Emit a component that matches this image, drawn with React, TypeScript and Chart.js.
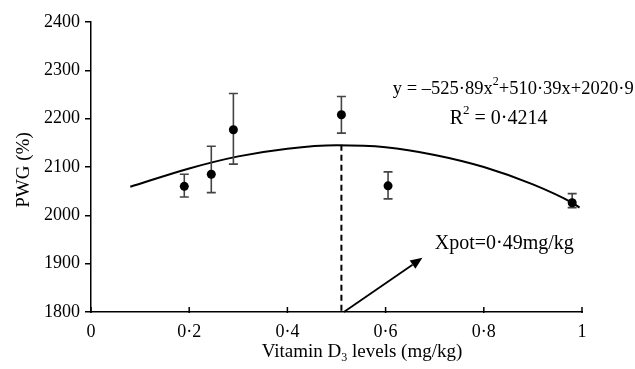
import React, { useEffect, useRef } from "react";
import { Chart, registerables } from "chart.js";

Chart.register(...registerables);

// Vitamin D3 levels (as drawn) and PWG means with error bars
const levels = [0.19, 0.245, 0.29, 0.51, 0.605, 0.98];
const pwgMeans = [2060, 2085, 2177, 2208, 2061, 2026];
const pwgLower = [2038, 2047, 2106, 2170, 2034, 2016];
const pwgUpper = [2085, 2143, 2252, 2246, 2090, 2045];

// quadratic fit curve
const fitX = [0.08, 0.2, 0.3, 0.4, 0.5, 0.6, 0.7, 0.8, 0.9, 0.98, 0.995];
const fitY = [2059, 2097, 2122, 2138, 2145, 2141, 2125, 2100, 2064, 2026, 2016];

const xTicks = [0, 0.2, 0.4, 0.6, 0.8, 1];
const xTickLabels = ["0", "0·2", "0·4", "0·6", "0·8", "1"];
const yTicks = [1800, 1900, 2000, 2100, 2200, 2300, 2400];
const yTickLabels = ["1800", "1900", "2000", "2100", "2200", "2300", "2400"];

const xpotX = 0.51;
const xpotTop = 2146;
const arrowFrom = [0.515, 1800];
const arrowTo = [0.675, 1912];

const equationParts = [
  { t: "y = –525·89x" },
  { t: "2", sup: true },
  { t: "+510·39x+2020·9" },
];
const r2Parts = [{ t: "R" }, { t: "2", sup: true }, { t: " = 0·4214" }];
const xpotLabel = "Xpot=0·49mg/kg";
const xTitleParts = [{ t: "Vitamin D" }, { t: "3", sub: true }, { t: " levels (mg/kg)" }];
const yTitle = "PWG (%)";

const FONT = "'Liberation Serif', 'Times New Roman', serif";

type Part = { t: string; sup?: boolean; sub?: boolean };

function drawRich(ctx: CanvasRenderingContext2D, parts: Part[], x: number, y: number, size: number, align: "center" | "left") {
  const small = Math.round(size * 0.65);
  let total = 0;
  for (const p of parts) {
    ctx.font = `${p.sup || p.sub ? small : size}px ${FONT}`;
    total += ctx.measureText(p.t).width;
  }
  let cx = align === "center" ? x - total / 2 : x;
  ctx.textAlign = "left";
  ctx.textBaseline = "middle";
  for (const p of parts) {
    const sz = p.sup || p.sub ? small : size;
    ctx.font = `${sz}px ${FONT}`;
    const dy = p.sup ? -size * 0.38 : p.sub ? size * 0.3 : 0;
    ctx.fillText(p.t, cx, y + dy);
    cx += ctx.measureText(p.t).width;
  }
}

const overlay = {
  id: "overlay",
  afterDatasetsDraw(chart: any) {
    const ctx: CanvasRenderingContext2D = chart.ctx;
    const xs = chart.scales.x;
    const ys = chart.scales.y;
    const area = chart.chartArea;
    ctx.save();

    // x ticks (pointing up)
    ctx.strokeStyle = "#000";
    ctx.lineWidth = 1.5;
    for (const v of xTicks) {
      const px = xs.getPixelForValue(v);
      ctx.beginPath();
      ctx.moveTo(px, area.bottom + 1);
      ctx.lineTo(px, area.bottom - 5);
      ctx.stroke();
    }

    // error bars
    ctx.strokeStyle = "#444";
    ctx.lineWidth = 1.6;
    for (let i = 0; i < levels.length; i++) {
      const px = xs.getPixelForValue(levels[i]);
      const top = ys.getPixelForValue(pwgUpper[i]);
      const bot = ys.getPixelForValue(pwgLower[i]);
      ctx.beginPath();
      ctx.moveTo(px, top);
      ctx.lineTo(px, bot);
      ctx.moveTo(px - 4.5, top);
      ctx.lineTo(px + 4.5, top);
      ctx.moveTo(px - 4.5, bot);
      ctx.lineTo(px + 4.5, bot);
      ctx.stroke();
    }

    // points on top of bars
    ctx.fillStyle = "#000";
    for (let i = 0; i < levels.length; i++) {
      ctx.beginPath();
      ctx.arc(xs.getPixelForValue(levels[i]), ys.getPixelForValue(pwgMeans[i]), 4.5, 0, Math.PI * 2);
      ctx.fill();
    }

    // dashed vertical line at Xpot
    ctx.strokeStyle = "#000";
    ctx.lineWidth = 2;
    ctx.setLineDash([6, 4]);
    const dx = xs.getPixelForValue(xpotX);
    ctx.beginPath();
    ctx.moveTo(dx, ys.getPixelForValue(xpotTop));
    ctx.lineTo(dx, ys.getPixelForValue(1800));
    ctx.stroke();
    ctx.setLineDash([]);

    // arrow
    const ax1 = xs.getPixelForValue(arrowFrom[0]);
    const ay1 = ys.getPixelForValue(arrowFrom[1]);
    const ax2 = xs.getPixelForValue(arrowTo[0]);
    const ay2 = ys.getPixelForValue(arrowTo[1]);
    const ang = Math.atan2(ay2 - ay1, ax2 - ax1);
    const hl = 12;
    const hw = 5;
    const bx = ax2 - hl * Math.cos(ang);
    const by = ay2 - hl * Math.sin(ang);
    ctx.lineWidth = 1.8;
    ctx.beginPath();
    ctx.moveTo(ax1, ay1);
    ctx.lineTo(bx, by);
    ctx.stroke();
    ctx.beginPath();
    ctx.moveTo(ax2, ay2);
    ctx.lineTo(bx + hw * Math.sin(ang), by - hw * Math.cos(ang));
    ctx.lineTo(bx - hw * Math.sin(ang), by + hw * Math.cos(ang));
    ctx.closePath();
    ctx.fill();

    // texts
    ctx.fillStyle = "#000";
    drawRich(ctx, equationParts, xs.getPixelForValue(0.86), ys.getPixelForValue(2262), 18.5, "center");
    drawRich(ctx, r2Parts, xs.getPixelForValue(0.83), ys.getPixelForValue(2200), 20, "center");
    drawRich(ctx, [{ t: xpotLabel }], xs.getPixelForValue(0.70), ys.getPixelForValue(1942), 20, "left");

    // axis titles
    drawRich(ctx, xTitleParts, 362, area.bottom + 40, 19, "center");
    ctx.save();
    ctx.translate(24, (area.top + area.bottom) / 2 + 3);
    ctx.rotate(-Math.PI / 2);
    drawRich(ctx, [{ t: yTitle }], 0, 0, 19, "center");
    ctx.restore();

    ctx.restore();
  },
};

export default function App() {
  const ref = useRef<HTMLCanvasElement | null>(null);
  useEffect(() => {
    document.body.style.margin = "0";
    if (!ref.current) return;
    const chart = new Chart(ref.current, {
      type: "scatter",
      data: {
        datasets: [
          {
            type: "line",
            data: fitX.map((x, i) => ({ x, y: fitY[i] })),
            borderColor: "#000",
            borderWidth: 2,
            pointRadius: 0,
            tension: 0.4,
            cubicInterpolationMode: "monotone",
            fill: false,
          } as any,
          {
            data: levels.map((x, i) => ({ x, y: pwgMeans[i] })),
            backgroundColor: "#000",
            borderColor: "#000",
            pointRadius: 0,
          },
        ],
      },
      options: {
        responsive: false,
        animation: false,
        layout: { padding: { top: 22, right: 53, bottom: 0, left: 0 } },
        plugins: { legend: { display: false }, tooltip: { enabled: false } },
        scales: {
          x: {
            type: "linear",
            min: 0,
            max: 1,
            afterBuildTicks: (scale: any) => {
              scale.ticks = xTicks.map((v) => ({ value: v }));
            },
            afterFit: (scale: any) => {
              scale.height = 57;
            },
            ticks: {
              color: "#000",
              font: { family: FONT, size: 18 },
              padding: 9,
              maxRotation: 0,
              callback: (v: any) => {
                const i = xTicks.indexOf(Number(v));
                return i >= 0 ? xTickLabels[i] : "";
              },
            },
            grid: { display: true, drawOnChartArea: false, drawTicks: false, color: "#000" },
            border: { display: true, color: "#000", width: 1.5 },
          },
          y: {
            type: "linear",
            min: 1800,
            max: 2400,
            afterBuildTicks: (scale: any) => {
              scale.ticks = yTicks.map((v) => ({ value: v }));
            },
            afterFit: (scale: any) => {
              scale.width = 91;
            },
            ticks: {
              color: "#000",
              font: { family: FONT, size: 18 },
              padding: 5,
              callback: (v: any) => {
                const i = yTicks.indexOf(Number(v));
                return i >= 0 ? yTickLabels[i] : "";
              },
            },
            grid: { display: true, drawOnChartArea: false, drawTicks: true, tickLength: 6, color: "#000", lineWidth: 1.5 },
            border: { display: true, color: "#000", width: 1.5 },
          },
        },
      },
      plugins: [overlay],
    });
    return () => chart.destroy();
  }, []);
  return (
    <div style={{ position: "absolute", left: 0, top: 0, width: 635, height: 369, background: "#fff" }}>
      <canvas ref={ref} width={635} height={369} style={{ display: "block" }} />
    </div>
  );
}
